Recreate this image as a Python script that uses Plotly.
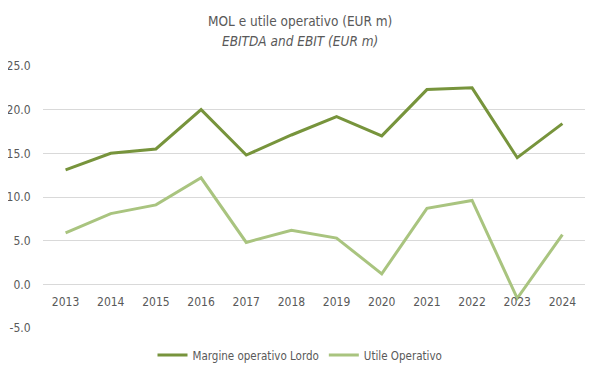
import plotly.graph_objects as go

years = ["2013", "2014", "2015", "2016", "2017", "2018", "2019", "2020", "2021", "2022", "2023", "2024"]
mol = [13.1, 15.0, 15.5, 20.0, 14.8, 17.1, 19.2, 17.0, 22.3, 22.5, 14.5, 18.4]
ebit = [5.9, 8.1, 9.1, 12.2, 4.8, 6.2, 5.3, 1.2, 8.7, 9.6, -1.6, 5.7]
y_ticks = [-5, 0, 5, 10, 15, 20, 25]

FONT = "DejaVu Sans Condensed, Roboto, sans-serif"
GRAY = "#595959"

# page has an 8px body margin, so the figure is 8px smaller and offsets shifted
W, H = 592, 367
L, R, T, B = 35, 15, 58, 47
ph = H - T - B
pw = W - L - R

fig = go.Figure()
fig.add_trace(go.Scatter(x=years, y=mol, mode="lines", name="Margine operativo Lordo",
                         line=dict(color="#77943C", width=3)))
fig.add_trace(go.Scatter(x=years, y=ebit, mode="lines", name="Utile Operativo",
                         line=dict(color="#A9C47F", width=3)))

ymin, ymax = -5, 25
tx = 0.5 - (L + pw / 2 - 292) / pw
fig.update_layout(
    width=W, height=H,
    margin=dict(l=L, r=R, t=T, b=B, autoexpand=False),
    paper_bgcolor="white", plot_bgcolor="white",
    font=dict(family=FONT, color=GRAY, size=12),
    showlegend=True,
    legend=dict(orientation="h", x=tx, xanchor="center", y=-27 / ph, yanchor="middle",
                font=dict(family=FONT, size=11.5, color=GRAY), itemwidth=30,
                tracegroupgap=0),
    xaxis=dict(type="category", range=[-0.5, len(years) - 0.5], automargin=False,
               anchor="free", position=(0 - ymin) / (ymax - ymin),
               showgrid=False, showline=False, zeroline=False,
               ticks="outside", ticklen=6, tickcolor="rgba(0,0,0,0)",
               tickfont=dict(family=FONT, size=12, color=GRAY)),
    yaxis=dict(range=[ymin, ymax], tickvals=y_ticks, automargin=False,
               ticktext=[f"{v:.1f}" for v in y_ticks],
               showgrid=True, gridcolor="#D9D9D9", gridwidth=1, zeroline=False,
               showline=False, ticks="outside", ticklen=9, tickcolor="rgba(0,0,0,0)",
               tickfont=dict(family=FONT, size=12, color=GRAY)),
    annotations=[
        dict(text="MOL e utile operativo (EUR m)", xref="paper", yref="paper",
             x=tx, y=1 + (T - 13) / ph, xanchor="center", yanchor="middle",
             showarrow=False, font=dict(family=FONT, size=13.5, color=GRAY)),
        dict(text="<i>EBITDA and EBIT (EUR m)</i>", xref="paper", yref="paper",
             x=tx, y=1 + (T - 33) / ph, xanchor="center", yanchor="middle",
             showarrow=False, font=dict(family=FONT, size=13.5, color=GRAY)),
    ],
)

fig.write_html("out.html")
